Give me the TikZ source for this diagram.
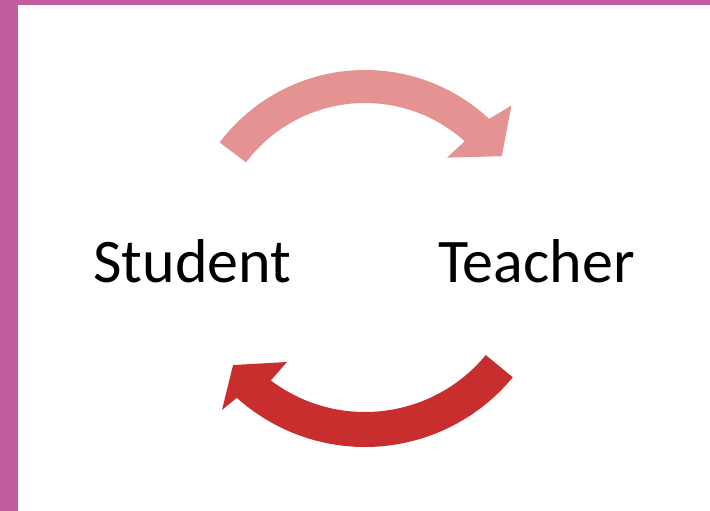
\documentclass[tikz,border=0pt]{standalone}
\usepackage{fontspec}
\setmainfont{Carlito}
\definecolor{frame}{RGB}{194,94,158}
\definecolor{lightarc}{RGB}{228,146,146}
\definecolor{darkarc}{RGB}{200,46,46}
\tikzset{
  label/.style={anchor=base, inner sep=0pt, font=\fontsize{62}{70}\selectfont, text=black},
  arcarrow/.style={draw=none}
}
\begin{document}
\begin{tikzpicture}[x=1pt,y=1pt]
  \useasboundingbox (0,0) rectangle (710,511);
  \fill[white] (0,0) rectangle (710,511);
  % purple frame along top and left edge
  \fill[frame] (0,506) rectangle (710,511);
  \fill[frame] (0,0) rectangle (18,511);

  % labels
  \node[label] (student) at (192.5,228) {Student};
  \node[label] (teacher) at (536.5,228) {Teacher};

  % upper block arc: Student -> Teacher
  \begin{scope}[shift={(365,259)}]
    \fill[lightarc, arcarrow]
      (143:182) arc[start angle=143, end angle=47, radius=182]
      -- (45:207) -- (35:167) -- (49:125) -- (48:149)
      arc[start angle=48, end angle=143, radius=149] -- cycle;
  \end{scope}

  % lower block arc: Teacher -> Student
  \begin{scope}[shift={(365,255.5)}]
    \fill[darkarc, arcarrow]
      (-39.5:191.5) arc[start angle=-39.5, end angle=-132, radius=191.5]
      -- (-132.8:210.5) -- (-140.3:171.5) -- (-126.2:132) -- (-127:156.5)
      arc[start angle=-127, end angle=-39.5, radius=156.5] -- cycle;
  \end{scope}
\end{tikzpicture}
\end{document}
